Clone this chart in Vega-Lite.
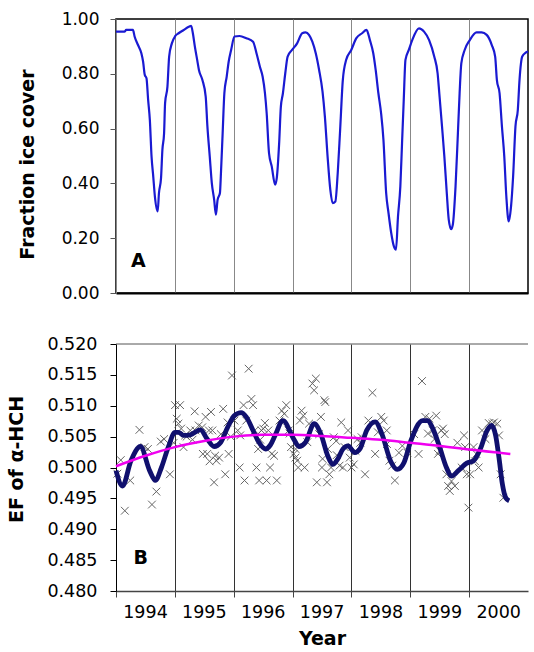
{
  "$schema": "https://vega.github.io/schema/vega-lite/v6.json",
  "padding": {"left": 7, "top": 9, "right": 0, "bottom": 0},
  "spacing": 33,
  "config": {
    "font": "DejaVu Sans",
    "view": {"stroke": null},
    "axis": {
      "labelFont": "DejaVu Sans",
      "titleFont": "DejaVu Sans",
      "titleFontWeight": "bold",
      "titleFontSize": 19,
      "labelColor": "#000",
      "titleColor": "#000"
    }
  },
  "datasets": {
    "ice": [
      {"year": 1994.000, "cover": 0.954}, {"year": 1994.144, "cover": 0.954}, {"year": 1994.173, "cover": 0.960},
      {"year": 1994.288, "cover": 0.960}, {"year": 1994.316, "cover": 0.936}, {"year": 1994.374, "cover": 0.905},
      {"year": 1994.431, "cover": 0.875}, {"year": 1994.460, "cover": 0.845}, {"year": 1994.489, "cover": 0.796},
      {"year": 1994.518, "cover": 0.784}, {"year": 1994.546, "cover": 0.705}, {"year": 1994.575, "cover": 0.632},
      {"year": 1994.604, "cover": 0.498}, {"year": 1994.633, "cover": 0.425}, {"year": 1994.661, "cover": 0.352},
      {"year": 1994.708, "cover": 0.298}, {"year": 1994.730, "cover": 0.365}, {"year": 1994.765, "cover": 0.419},
      {"year": 1994.788, "cover": 0.522}, {"year": 1994.817, "cover": 0.583}, {"year": 1994.834, "cover": 0.693},
      {"year": 1994.874, "cover": 0.753}, {"year": 1994.903, "cover": 0.863}, {"year": 1994.949, "cover": 0.911},
      {"year": 1995.007, "cover": 0.938}, {"year": 1995.064, "cover": 0.948}, {"year": 1995.150, "cover": 0.960},
      {"year": 1995.237, "cover": 0.972}, {"year": 1995.277, "cover": 0.975}, {"year": 1995.306, "cover": 0.948},
      {"year": 1995.340, "cover": 0.899}, {"year": 1995.380, "cover": 0.850}, {"year": 1995.409, "cover": 0.814},
      {"year": 1995.467, "cover": 0.778}, {"year": 1995.524, "cover": 0.717}, {"year": 1995.553, "cover": 0.608},
      {"year": 1995.593, "cover": 0.498}, {"year": 1995.628, "cover": 0.401}, {"year": 1995.668, "cover": 0.340},
      {"year": 1995.697, "cover": 0.286}, {"year": 1995.726, "cover": 0.340}, {"year": 1995.766, "cover": 0.365},
      {"year": 1995.783, "cover": 0.437}, {"year": 1995.812, "cover": 0.583}, {"year": 1995.841, "cover": 0.729},
      {"year": 1995.881, "cover": 0.790}, {"year": 1995.915, "cover": 0.845}, {"year": 1995.956, "cover": 0.887},
      {"year": 1996.013, "cover": 0.936}, {"year": 1996.099, "cover": 0.938}, {"year": 1996.214, "cover": 0.930},
      {"year": 1996.329, "cover": 0.917}, {"year": 1996.387, "cover": 0.875}, {"year": 1996.445, "cover": 0.826},
      {"year": 1996.491, "cover": 0.790}, {"year": 1996.531, "cover": 0.729}, {"year": 1996.560, "cover": 0.656},
      {"year": 1996.600, "cover": 0.510}, {"year": 1996.646, "cover": 0.462}, {"year": 1996.703, "cover": 0.395},
      {"year": 1996.732, "cover": 0.420}, {"year": 1996.772, "cover": 0.547}, {"year": 1996.801, "cover": 0.680},
      {"year": 1996.836, "cover": 0.729}, {"year": 1996.876, "cover": 0.802}, {"year": 1996.916, "cover": 0.863},
      {"year": 1996.991, "cover": 0.887}, {"year": 1997.077, "cover": 0.911}, {"year": 1997.163, "cover": 0.948},
      {"year": 1997.221, "cover": 0.951}, {"year": 1997.279, "cover": 0.942}, {"year": 1997.336, "cover": 0.917},
      {"year": 1997.394, "cover": 0.875}, {"year": 1997.451, "cover": 0.814}, {"year": 1997.509, "cover": 0.735},
      {"year": 1997.549, "cover": 0.644}, {"year": 1997.595, "cover": 0.498}, {"year": 1997.641, "cover": 0.377},
      {"year": 1997.681, "cover": 0.328}, {"year": 1997.727, "cover": 0.334}, {"year": 1997.767, "cover": 0.437},
      {"year": 1997.808, "cover": 0.595}, {"year": 1997.854, "cover": 0.778}, {"year": 1997.911, "cover": 0.851},
      {"year": 1997.997, "cover": 0.887}, {"year": 1998.084, "cover": 0.930}, {"year": 1998.181, "cover": 0.948},
      {"year": 1998.256, "cover": 0.960}, {"year": 1998.314, "cover": 0.923}, {"year": 1998.371, "cover": 0.875},
      {"year": 1998.412, "cover": 0.814}, {"year": 1998.458, "cover": 0.729}, {"year": 1998.504, "cover": 0.656},
      {"year": 1998.544, "cover": 0.559}, {"year": 1998.590, "cover": 0.365}, {"year": 1998.630, "cover": 0.292},
      {"year": 1998.676, "cover": 0.219}, {"year": 1998.722, "cover": 0.170}, {"year": 1998.757, "cover": 0.158},
      {"year": 1998.791, "cover": 0.279}, {"year": 1998.831, "cover": 0.389}, {"year": 1998.860, "cover": 0.547},
      {"year": 1998.889, "cover": 0.705}, {"year": 1998.918, "cover": 0.851}, {"year": 1998.975, "cover": 0.887},
      {"year": 1999.033, "cover": 0.923}, {"year": 1999.148, "cover": 0.966}, {"year": 1999.234, "cover": 0.954},
      {"year": 1999.320, "cover": 0.923}, {"year": 1999.407, "cover": 0.863}, {"year": 1999.464, "cover": 0.802},
      {"year": 1999.493, "cover": 0.729}, {"year": 1999.539, "cover": 0.608}, {"year": 1999.579, "cover": 0.498},
      {"year": 1999.620, "cover": 0.365}, {"year": 1999.654, "cover": 0.267}, {"year": 1999.694, "cover": 0.233},
      {"year": 1999.723, "cover": 0.250}, {"year": 1999.769, "cover": 0.389}, {"year": 1999.809, "cover": 0.583},
      {"year": 1999.838, "cover": 0.729}, {"year": 1999.867, "cover": 0.838}, {"year": 1999.924, "cover": 0.887},
      {"year": 2000.011, "cover": 0.923}, {"year": 2000.126, "cover": 0.951}, {"year": 2000.212, "cover": 0.951},
      {"year": 2000.298, "cover": 0.942}, {"year": 2000.385, "cover": 0.905}, {"year": 2000.442, "cover": 0.863},
      {"year": 2000.471, "cover": 0.778}, {"year": 2000.517, "cover": 0.729}, {"year": 2000.557, "cover": 0.608},
      {"year": 2000.597, "cover": 0.498}, {"year": 2000.632, "cover": 0.352}, {"year": 2000.672, "cover": 0.261},
      {"year": 2000.712, "cover": 0.316}, {"year": 2000.747, "cover": 0.425}, {"year": 2000.787, "cover": 0.608},
      {"year": 2000.827, "cover": 0.668}, {"year": 2000.856, "cover": 0.778}, {"year": 2000.902, "cover": 0.863},
      {"year": 2000.960, "cover": 0.877}, {"year": 2001.000, "cover": 0.881}
    ],
    "ef": [
      {"year": 1994.023, "ef": 0.4990}, {"year": 1994.081, "ef": 0.5012}, {"year": 1994.150, "ef": 0.4930},
      {"year": 1994.242, "ef": 0.4979}, {"year": 1994.398, "ef": 0.5061}, {"year": 1994.484, "ef": 0.5033},
      {"year": 1994.542, "ef": 0.5030}, {"year": 1994.611, "ef": 0.4940}, {"year": 1994.686, "ef": 0.4961},
      {"year": 1994.761, "ef": 0.5042}, {"year": 1994.818, "ef": 0.5046}, {"year": 1994.916, "ef": 0.4989},
      {"year": 1994.980, "ef": 0.5040}, {"year": 1995.003, "ef": 0.5101}, {"year": 1995.032, "ef": 0.5079},
      {"year": 1995.089, "ef": 0.5101}, {"year": 1995.061, "ef": 0.5071}, {"year": 1995.107, "ef": 0.5063},
      {"year": 1995.147, "ef": 0.5033}, {"year": 1995.176, "ef": 0.5052}, {"year": 1995.200, "ef": 0.5050},
      {"year": 1995.262, "ef": 0.5060}, {"year": 1995.300, "ef": 0.5045}, {"year": 1995.337, "ef": 0.5091},
      {"year": 1995.349, "ef": 0.5060}, {"year": 1995.406, "ef": 0.5068}, {"year": 1995.464, "ef": 0.5065},
      {"year": 1995.476, "ef": 0.5022}, {"year": 1995.522, "ef": 0.5082}, {"year": 1995.550, "ef": 0.5022},
      {"year": 1995.579, "ef": 0.5060}, {"year": 1995.590, "ef": 0.5010}, {"year": 1995.614, "ef": 0.5090},
      {"year": 1995.637, "ef": 0.5060}, {"year": 1995.666, "ef": 0.4976}, {"year": 1995.683, "ef": 0.5019},
      {"year": 1995.706, "ef": 0.5011}, {"year": 1995.752, "ef": 0.5016}, {"year": 1995.781, "ef": 0.5054},
      {"year": 1995.821, "ef": 0.5095}, {"year": 1995.856, "ef": 0.4989}, {"year": 1995.896, "ef": 0.5073},
      {"year": 1995.914, "ef": 0.5022}, {"year": 1995.950, "ef": 0.5050}, {"year": 1995.971, "ef": 0.5149},
      {"year": 1996.012, "ef": 0.5076}, {"year": 1996.069, "ef": 0.5060}, {"year": 1996.110, "ef": 0.5052},
      {"year": 1996.100, "ef": 0.5000}, {"year": 1996.167, "ef": 0.5101}, {"year": 1996.184, "ef": 0.4979},
      {"year": 1996.213, "ef": 0.5076}, {"year": 1996.254, "ef": 0.5160}, {"year": 1996.300, "ef": 0.5111},
      {"year": 1996.329, "ef": 0.5101}, {"year": 1996.357, "ef": 0.5060}, {"year": 1996.386, "ef": 0.5000},
      {"year": 1996.415, "ef": 0.5030}, {"year": 1996.432, "ef": 0.4979}, {"year": 1996.450, "ef": 0.5045},
      {"year": 1996.473, "ef": 0.5060}, {"year": 1996.501, "ef": 0.5063}, {"year": 1996.530, "ef": 0.5072},
      {"year": 1996.559, "ef": 0.4979}, {"year": 1996.588, "ef": 0.5060}, {"year": 1996.617, "ef": 0.5000},
      {"year": 1996.646, "ef": 0.5022}, {"year": 1996.686, "ef": 0.5019}, {"year": 1996.732, "ef": 0.4979},
      {"year": 1996.778, "ef": 0.5076}, {"year": 1996.818, "ef": 0.5092}, {"year": 1996.859, "ef": 0.5087},
      {"year": 1996.893, "ef": 0.5101}, {"year": 1996.934, "ef": 0.5060}, {"year": 1996.950, "ef": 0.5055},
      {"year": 1996.974, "ef": 0.5033}, {"year": 1997.020, "ef": 0.5022}, {"year": 1997.049, "ef": 0.5016},
      {"year": 1997.050, "ef": 0.5030}, {"year": 1997.078, "ef": 0.5011}, {"year": 1997.095, "ef": 0.5000},
      {"year": 1997.124, "ef": 0.5076}, {"year": 1997.153, "ef": 0.5092}, {"year": 1997.182, "ef": 0.5084},
      {"year": 1997.205, "ef": 0.5000}, {"year": 1997.251, "ef": 0.5041}, {"year": 1997.280, "ef": 0.5071},
      {"year": 1997.337, "ef": 0.5136}, {"year": 1997.366, "ef": 0.5125}, {"year": 1997.395, "ef": 0.5144},
      {"year": 1997.412, "ef": 0.4976}, {"year": 1997.452, "ef": 0.5054}, {"year": 1997.481, "ef": 0.5082},
      {"year": 1997.499, "ef": 0.5000}, {"year": 1997.510, "ef": 0.5014}, {"year": 1997.539, "ef": 0.5109},
      {"year": 1997.556, "ef": 0.5106}, {"year": 1997.585, "ef": 0.4976}, {"year": 1997.600, "ef": 0.5030},
      {"year": 1997.625, "ef": 0.4989}, {"year": 1997.654, "ef": 0.5000}, {"year": 1997.700, "ef": 0.5049},
      {"year": 1997.741, "ef": 0.5043}, {"year": 1997.750, "ef": 0.5020}, {"year": 1997.798, "ef": 0.5003},
      {"year": 1997.827, "ef": 0.5073}, {"year": 1997.856, "ef": 0.5000}, {"year": 1997.885, "ef": 0.5033},
      {"year": 1997.942, "ef": 0.5060}, {"year": 1997.971, "ef": 0.5016}, {"year": 1998.000, "ef": 0.5000},
      {"year": 1998.040, "ef": 0.5005}, {"year": 1998.069, "ef": 0.5027}, {"year": 1998.104, "ef": 0.5046},
      {"year": 1998.150, "ef": 0.5040}, {"year": 1998.173, "ef": 0.5049}, {"year": 1998.231, "ef": 0.4989},
      {"year": 1998.288, "ef": 0.5076}, {"year": 1998.357, "ef": 0.5121}, {"year": 1998.403, "ef": 0.5022},
      {"year": 1998.450, "ef": 0.5057}, {"year": 1998.507, "ef": 0.5082}, {"year": 1998.548, "ef": 0.5076},
      {"year": 1998.600, "ef": 0.5060}, {"year": 1998.605, "ef": 0.5038}, {"year": 1998.646, "ef": 0.5011},
      {"year": 1998.692, "ef": 0.5003}, {"year": 1998.738, "ef": 0.4979}, {"year": 1998.807, "ef": 0.5024},
      {"year": 1998.865, "ef": 0.5035}, {"year": 1998.951, "ef": 0.5024}, {"year": 1999.066, "ef": 0.5054},
      {"year": 1999.141, "ef": 0.5022}, {"year": 1999.199, "ef": 0.5140}, {"year": 1999.256, "ef": 0.5082},
      {"year": 1999.300, "ef": 0.5055}, {"year": 1999.326, "ef": 0.5079}, {"year": 1999.383, "ef": 0.5060},
      {"year": 1999.412, "ef": 0.5046}, {"year": 1999.441, "ef": 0.5084}, {"year": 1999.470, "ef": 0.5022},
      {"year": 1999.499, "ef": 0.5027}, {"year": 1999.527, "ef": 0.5060}, {"year": 1999.556, "ef": 0.5063},
      {"year": 1999.585, "ef": 0.5054}, {"year": 1999.614, "ef": 0.4989}, {"year": 1999.643, "ef": 0.4970},
      {"year": 1999.671, "ef": 0.4962}, {"year": 1999.700, "ef": 0.4978}, {"year": 1999.758, "ef": 0.4970},
      {"year": 1999.800, "ef": 0.5040}, {"year": 1999.873, "ef": 0.5000}, {"year": 1999.914, "ef": 0.5052},
      {"year": 1999.931, "ef": 0.5033}, {"year": 1999.960, "ef": 0.4989}, {"year": 1999.988, "ef": 0.4935},
      {"year": 2000.017, "ef": 0.4989}, {"year": 2000.075, "ef": 0.5033}, {"year": 2000.100, "ef": 0.5010},
      {"year": 2000.121, "ef": 0.5022}, {"year": 2000.161, "ef": 0.5000}, {"year": 2000.219, "ef": 0.5060},
      {"year": 2000.277, "ef": 0.5046}, {"year": 2000.334, "ef": 0.5072}, {"year": 2000.392, "ef": 0.5071},
      {"year": 2000.421, "ef": 0.5073}, {"year": 2000.478, "ef": 0.5071}, {"year": 2000.507, "ef": 0.5052},
      {"year": 2000.536, "ef": 0.4989}, {"year": 2000.582, "ef": 0.4951}
    ],
    "smooth": [
      {"year": 1994.000, "ef": 0.4995}, {"year": 1994.110, "ef": 0.4970}, {"year": 1994.254, "ef": 0.5011},
      {"year": 1994.415, "ef": 0.5034}, {"year": 1994.571, "ef": 0.4995}, {"year": 1994.669, "ef": 0.4979},
      {"year": 1994.772, "ef": 0.5000}, {"year": 1994.888, "ef": 0.5033}, {"year": 1995.003, "ef": 0.5057},
      {"year": 1995.061, "ef": 0.5057}, {"year": 1995.147, "ef": 0.5052}, {"year": 1995.262, "ef": 0.5053},
      {"year": 1995.435, "ef": 0.5061}, {"year": 1995.550, "ef": 0.5046}, {"year": 1995.666, "ef": 0.5034},
      {"year": 1995.781, "ef": 0.5041}, {"year": 1995.896, "ef": 0.5065}, {"year": 1996.012, "ef": 0.5084},
      {"year": 1996.127, "ef": 0.5089}, {"year": 1996.213, "ef": 0.5082}, {"year": 1996.329, "ef": 0.5060},
      {"year": 1996.420, "ef": 0.5042}, {"year": 1996.540, "ef": 0.5030}, {"year": 1996.620, "ef": 0.5036},
      {"year": 1996.703, "ef": 0.5052}, {"year": 1996.836, "ef": 0.5076}, {"year": 1997.020, "ef": 0.5046},
      {"year": 1997.107, "ef": 0.5034}, {"year": 1997.222, "ef": 0.5041}, {"year": 1997.366, "ef": 0.5071},
      {"year": 1997.481, "ef": 0.5054}, {"year": 1997.597, "ef": 0.5019}, {"year": 1997.683, "ef": 0.5005},
      {"year": 1997.769, "ef": 0.5014}, {"year": 1997.856, "ef": 0.5030}, {"year": 1997.942, "ef": 0.5035},
      {"year": 1998.058, "ef": 0.5024}, {"year": 1998.144, "ef": 0.5030}, {"year": 1998.259, "ef": 0.5060},
      {"year": 1998.403, "ef": 0.5074}, {"year": 1998.519, "ef": 0.5054}, {"year": 1998.663, "ef": 0.5011},
      {"year": 1998.778, "ef": 0.4997}, {"year": 1998.893, "ef": 0.5008}, {"year": 1999.009, "ef": 0.5043},
      {"year": 1999.210, "ef": 0.5076}, {"year": 1999.297, "ef": 0.5076}, {"year": 1999.383, "ef": 0.5063},
      {"year": 1999.499, "ef": 0.5033}, {"year": 1999.614, "ef": 0.5000}, {"year": 1999.700, "ef": 0.4986},
      {"year": 1999.816, "ef": 0.4995}, {"year": 1999.960, "ef": 0.5007}, {"year": 2000.075, "ef": 0.5011},
      {"year": 2000.190, "ef": 0.5030}, {"year": 2000.305, "ef": 0.5060}, {"year": 2000.380, "ef": 0.5068},
      {"year": 2000.450, "ef": 0.5052}, {"year": 2000.507, "ef": 0.5016}, {"year": 2000.565, "ef": 0.4973},
      {"year": 2000.622, "ef": 0.4951}, {"year": 2000.680, "ef": 0.4946}
    ],
    "trend": [
      {"year": 1994.0, "ef": 0.5002}, {"year": 1994.5, "ef": 0.5019}, {"year": 1995.0, "ef": 0.5033},
      {"year": 1995.5, "ef": 0.5043}, {"year": 1996.0, "ef": 0.5050}, {"year": 1996.5, "ef": 0.5053},
      {"year": 1997.0, "ef": 0.5053}, {"year": 1997.5, "ef": 0.5051}, {"year": 1998.0, "ef": 0.5048},
      {"year": 1998.5, "ef": 0.5045}, {"year": 1999.0, "ef": 0.5040}, {"year": 1999.5, "ef": 0.5035},
      {"year": 2000.0, "ef": 0.5029}, {"year": 2000.7, "ef": 0.5022}
    ],
    "panels": [
      {"panel": "A", "year": 1994.38, "ef": 0.116},
      {"panel": "B", "year": 1994.42, "ef": 0.4854}
    ],
    "frame": [
      {"start": 1994, "end": 2001, "top": 0.52}
    ]
  },
  "vconcat": [
    {
      "width": 412,
      "height": 274,
      "view": {"stroke": "#000", "strokeWidth": 1.5},
      "layer": [
        {
          "data": {"name": "ice"},
          "mark": {"type": "line", "color": "#1a1ad2", "strokeWidth": 2.2, "interpolate": "monotone"},
          "encoding": {
            "x": {
              "field": "year", "type": "quantitative",
              "scale": {"domain": [1994, 2001], "nice": false, "zero": false},
              "axis": {
                "values": [1995, 1996, 1997, 1998, 1999, 2000],
                "grid": true, "gridColor": "#888", "gridWidth": 1,
                "labels": false, "ticks": false, "title": null,
                "domainColor": "#000", "domainWidth": 2
              }
            },
            "y": {
              "field": "cover", "type": "quantitative",
              "scale": {"domain": [0, 1], "nice": false},
              "axis": {
                "values": [0, 0.2, 0.4, 0.6, 0.8, 1],
                "format": ".2f", "grid": false,
                "title": "Fraction ice cover",
                "labelFontSize": 17, "labelPadding": 11,
                "tickSize": 6, "tickColor": "#555",
                "domainColor": "#888",
                "titlePadding": 24, "titleY": 145
              }
            }
          }
        },
        {
          "data": {"name": "panels"},
          "transform": [{"filter": "datum.panel == 'A'"}],
          "mark": {"type": "text", "fontWeight": "bold", "fontSize": 19, "color": "#000"},
          "encoding": {
            "x": {"field": "year", "type": "quantitative"},
            "y": {"field": "ef", "type": "quantitative"},
            "text": {"field": "panel"}
          }
        }
      ]
    },
    {
      "width": 412,
      "height": 247,
      "encoding": {
        "x": {
          "field": "year", "type": "quantitative",
          "scale": {"domain": [1994, 2001], "nice": false, "zero": false},
          "axis": {
            "values": [1994, 1995, 1996, 1997, 1998, 1999, 2000],
            "format": "d",
            "grid": true, "gridColor": "#333", "gridWidth": 1,
            "title": "Year", "titlePadding": 9,
            "labelFontSize": 17.5, "labelOffset": 29, "labelPadding": 6,
            "labelFlush": false, "labelOverlap": false, "labelBound": false,
            "tickSize": 6, "tickColor": "#444",
            "domainColor": "#444", "domainWidth": 1.5
          }
        },
        "y": {
          "field": "ef", "type": "quantitative",
          "scale": {"domain": [0.48, 0.52], "nice": false, "zero": false},
          "axis": {
            "values": [0.48, 0.485, 0.49, 0.495, 0.5, 0.505, 0.51, 0.515, 0.52],
            "tickCount": 9,
            "format": ".3f", "grid": false,
            "labelOverlap": false, "labelFlush": false, "labelBound": false,
            "title": "EF of α-HCH",
            "labelFontSize": 17.5, "labelPadding": 13,
            "tickSize": 6, "tickColor": "#000",
            "domainColor": "#000",
            "titlePadding": 20, "titleY": 115
          }
        }
      },
      "layer": [
        {
          "data": {"name": "ef"},
          "mark": {
            "type": "point",
            "shape": "M-1,-1L1,1M1,-1L-1,1",
            "filled": false,
            "size": 60,
            "strokeWidth": 1,
            "color": "#555",
            "opacity": 0.9
          }
        },
        {
          "data": {"name": "smooth"},
          "mark": {"type": "line", "color": "#10106e", "strokeWidth": 4.8, "interpolate": "monotone"}
        },
        {
          "data": {"name": "trend"},
          "mark": {"type": "line", "color": "#f000f0", "strokeWidth": 2.5, "interpolate": "monotone"}
        },
        {
          "data": {"name": "panels"},
          "transform": [{"filter": "datum.panel == 'B'"}],
          "mark": {"type": "text", "fontWeight": "bold", "fontSize": 19, "color": "#000"},
          "encoding": {
            "text": {"field": "panel"}
          }
        },
        {
          "data": {"name": "frame"},
          "mark": {"type": "rule", "color": "#555", "strokeWidth": 1},
          "encoding": {
            "x": {"field": "start", "type": "quantitative"},
            "x2": {"field": "end"},
            "y": {"field": "top", "type": "quantitative"}
          }
        }
      ]
    }
  ]
}
